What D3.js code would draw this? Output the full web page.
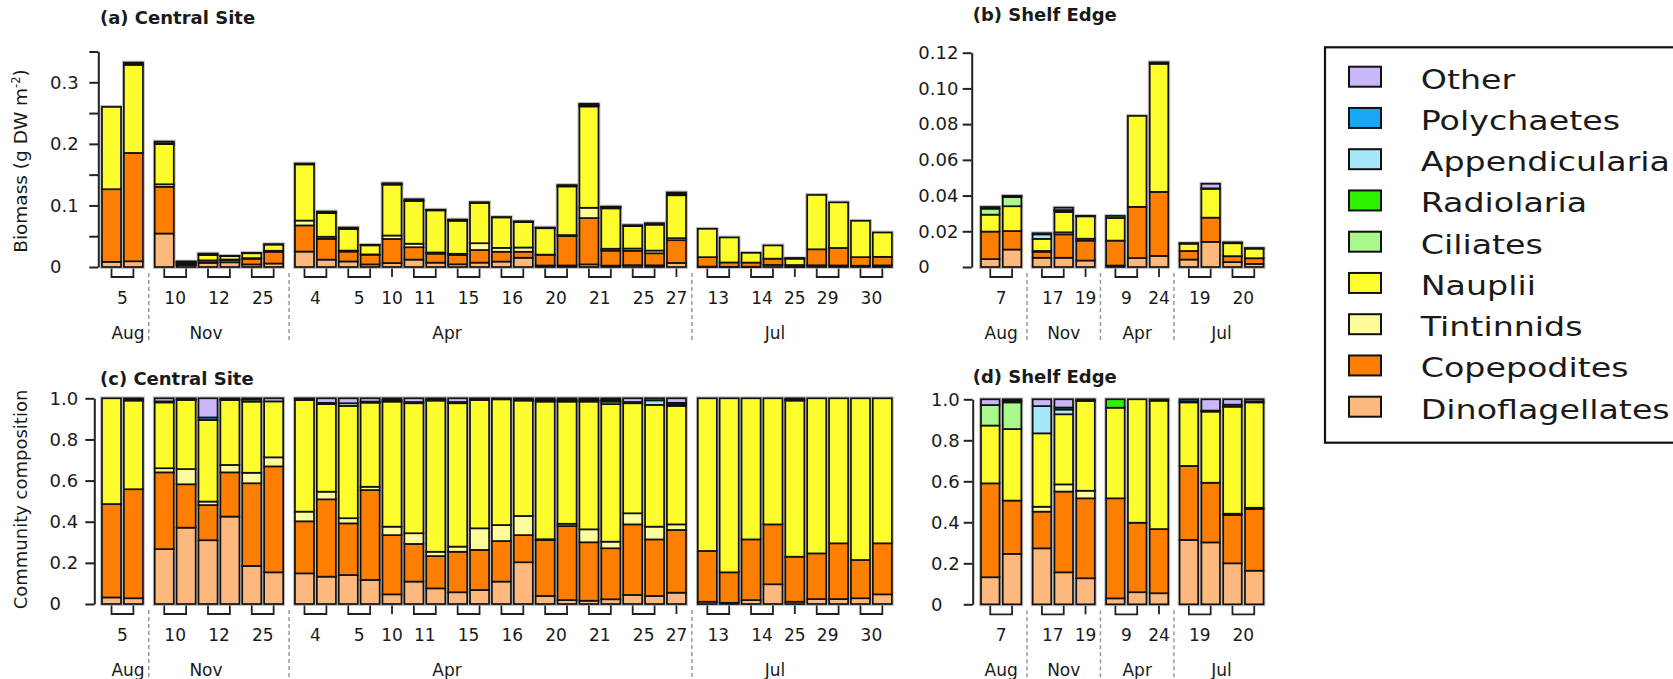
<!DOCTYPE html>
<html><head><meta charset="utf-8">
<script src="https://cdn.jsdelivr.net/npm/d3@7"></script>
<style>
body{margin:0;background:#fff}
svg{display:block}
text{font-family:"DejaVu Sans",Verdana,sans-serif;fill:#1a1a1a}
</style>
</head><body>
<svg id="chart" width="1673" height="679"></svg>
<script>
// ---------------- DATA ----------------
const categories = ["Dinoflagellates","Copepodites","Tintinnids","Nauplii","Ciliates","Radiolaria","Appendicularia","Polychaetes","Other"];
const categoryColors = ["#fdb97d","#fd7e00","#fdfb9c","#fdfd2e","#aaf78d","#2ef200","#a6e8fb","#18a8f8","#c9b7f7"];

// Central site sampling structure
const centralMonths = ["Aug","Nov","Apr","Jul"];
const centralDays = [["5"],["10","12","25"],["4","5","10","11","15","16","20","21","25","27"],["13","14","25","29","30"]];
const centralReps = [[2],[2,2,2],[2,2,1,2,2,2,2,2,2,1],[2,2,1,2,2]];
// total biomass (g DW m-2), one per bar
const centralTotal = [0.260,0.332, 0.2036,0.0087,0.0217,0.018,0.0227,0.037,
  0.168,0.090,0.064,0.036,0.136,0.110,0.093,0.077,0.105,0.081,0.074,0.064,0.133,0.265,0.098,0.068,0.071,0.121,
  0.062,0.048,0.023,0.035,0.014,0.117,0.105,0.075,0.056];
// community composition fractions per category
const centralDino = [.032,.028, .267,.371,.31,.425,.185,.154,
  .149,.133,.141,.117,.047,.109,.076,.057,.068,.109,.203,.039,.019,.016,.023,.044,.039,.055,
  .011,.006,.019,.096,.011,.024,.024,.028,.047];
const centralCope = [.454,.530, .373,.211,.171,.215,.402,.515,
  .253,.376,.251,.437,.288,.183,.157,.197,.195,.197,.132,.272,.360,.284,.248,.343,.275,.305,
  .247,.148,.295,.291,.219,.222,.271,.186,.248];
const centralTint = [0,0, .02,.074,.017,.036,.051,.044,
  .047,.037,.025,.016,.041,.052,.021,.025,.105,.078,.093,.004,.011,.063,.032,.054,.062,.027,
  0,0,0,0,0,0,0,0,0];
const centralNaup = [.514,.431, .32,.336,.397,.316,.346,.272,
  .543,.426,.546,.409,.608,.632,.735,.697,.624,.611,.561,.669,.594,.621,.669,.535,.592,.576,
  .742,.846,.686,.613,.759,.754,.705,.786,.705];
const centralCil = [0,0, 0,0,0,0,.01,0,
  0,0,.013,0,0,0,0,0,0,0,0,0,0,0,.012,0,0,0,
  0,0,0,0,0,0,0,0,0];
const centralRad = [0,.004, 0,0,0,0,0,0,
  0,0,0,0,.005,0,.004,0,0,0,.004,.005,.005,.005,.005,0,0,.007,
  0,0,0,0,.004,0,0,0,0];
const centralApp = [0,.003, 0,.004,0,.004,0,0,
  .004,0,0,0,.005,0,.003,0,.004,0,.003,.005,.005,.005,.005,0,.022,0,
  0,0,0,0,.003,0,0,0,0];
const centralPoly = [0,.004, .005,.004,.012,.004,0,0,
  .004,.006,0,.005,.006,.006,.004,.006,.004,.005,.004,.006,.006,.006,.006,.006,.010,.008,
  0,0,0,0,.004,0,0,0,0];
const centralOther = [0,0, .015,0,.093,0,.006,.015,
  0,.022,.024,.016,0,.018,0,.018,0,0,0,0,0,0,0,.018,0,.022,
  0,0,0,0,0,0,0,0,0];

// Shelf edge sampling structure
const shelfMonths = ["Aug","Nov","Apr","Jul"];
const shelfDays = [["7"],["17","19"],["9","24"],["19","20"]];
const shelfReps = [[2],[2,1],[2,1],[2,2]];
const shelfTotal = [0.0336,0.0398, 0.0189,0.0332,0.0286, 0.0286,0.0846,0.1146, 0.0133,0.0466,0.0138,0.0105];
const shelfDino  = [.132,.246,.273,.156,.127,.029,.059,.054,.314,.302,.2,.164];
const shelfCope  = [.458,.260,.179,.394,.39,.488,.339,.313,.361,.291,.236,.301];
const shelfTint  = [0,0,.024,.035,.037,0,0,0,0,0,.006,.006];
const shelfNaup  = [.282,.349,.358,.342,.438,.442,.602,.626,.31,.347,.522,.514];
const shelfCil   = [.100,.130,0,0,0,0,0,0,0,0,0,0];
const shelfRad   = [0,.005,0,0,0,.041,0,0,0,0,0,0];
const shelfApp   = [0,.005,.133,.023,.004,0,0,.003,.005,0,0,0];
const shelfPoly  = [0,.005,0,.01,.004,0,0,.004,.01,.005,.01,.005];
const shelfOther = [.028,0,.033,.04,0,0,0,0,0,.055,.026,.010];

const biomassTicks = [0,0.05,0.1,0.15,0.2,0.25,0.3,0.35];
const shelfBiomassTicks = [0,0.02,0.04,0.06,0.08,0.10,0.12];
const compTicks = [0,0.2,0.4,0.6,0.8,1.0];

// ---------------- LAYOUT ----------------
const layout = {
  central: {x0:102, slot:21.88, gap:0.41, barFrac:0.87, monthX:[128,206,447,775]},
  shelf:   {x0:981, slot:21.8,  gap:0.37, barFrac:0.85, monthX:null},
  strokeW: 1.7
};

const svg = d3.select("#chart");

function buildSite(months, days, reps, cfg){
  const bars=[], groups=[];
  let i=0;
  months.forEach((m,g)=>{
    const first=i, dayItems=[];
    days[g].forEach((d,k)=>{
      const idx=[];
      for(let r=0;r<reps[g][k];r++){ bars.push({i, g, slot:i+g*cfg.gap}); idx.push(i); i++; }
      dayItems.push({label:d, idx});
    });
    groups.push({month:m, first, last:i-1, days:dayItems});
  });
  const N = bars.length + (months.length-1)*cfg.gap;
  const x = d3.scaleLinear().domain([0,N]).range([cfg.x0, cfg.x0+N*cfg.slot]);
  return {bars, groups, x, cfg};
}

const central = buildSite(centralMonths, centralDays, centralReps, layout.central);
const shelf = buildSite(shelfMonths, shelfDays, shelfReps, layout.shelf);

const centralFracs = [centralDino,centralCope,centralTint,centralNaup,centralCil,centralRad,centralApp,centralPoly,centralOther];
const shelfFracs = [shelfDino,shelfCope,shelfTint,shelfNaup,shelfCil,shelfRad,shelfApp,shelfPoly,shelfOther];

function rowsFrom(fracs, totals, absolute){
  return totals.map((t,j)=>{
    const r={};
    categories.forEach((c,k)=>{ r[c] = fracs[k][j]*(absolute?t:1); });
    return r;
  });
}

function drawBars(site, rows, y, expand){
  const st = d3.stack().keys(categories);
  if(expand) st.offset(d3.stackOffsetExpand);
  const series = st(rows);
  const c = site.cfg;
  const g = svg.append("g");
  const bx = b => site.x(b.slot);
  const bw = b => site.x(b.slot+c.barFrac)-site.x(b.slot);
  // halo
  g.selectAll("rect.halo").data(site.bars).join("rect")
    .attr("x", b=>bx(b)).attr("width", b=>bw(b))
    .attr("y", b=>y(series[series.length-1][b.i][1]))
    .attr("height", b=>y(0)-y(series[series.length-1][b.i][1]))
    .attr("fill","none").attr("stroke","#bdbdbd").attr("stroke-width",3.8);
  series.forEach((s,k)=>{
    const segs = site.bars.filter(b=>s[b.i][1]-s[b.i][0]>0);
    g.selectAll(null).data(segs).join("rect")
      .attr("x", b=>bx(b)).attr("width", b=>bw(b))
      .attr("y", b=>y(s[b.i][1]))
      .attr("height", b=>y(s[b.i][0])-y(s[b.i][1]))
      .attr("fill", categoryColors[k]).attr("stroke","#111").attr("stroke-width",layout.strokeW);
  });
}

function drawXAxis(site, zero){
  const c = site.cfg, x = site.x, g = svg.append("g");
  const center = i => x(site.bars[i].slot + c.barFrac/2);
  site.groups.forEach((grp,gi)=>{
    grp.days.forEach(d=>{
      const cx = d.idx.map(center);
      const p = cx.length===2
        ? `M${cx[0]},${zero+1.5}V${zero+10}H${cx[1]}V${zero+1.5}`
        : `M${cx[0]},${zero+1.5}V${zero+10}`;
      g.append("path").attr("d",p).attr("fill","none").attr("stroke","#222").attr("stroke-width",1.8);
      g.append("text").attr("x", d3.mean(cx)).attr("y", zero+37)
        .attr("text-anchor","middle").attr("font-size",17).text(d.label);
    });
    const gx0 = x(site.bars[grp.first].slot), gx1 = x(site.bars[grp.last].slot + c.barFrac);
    const mx = c.monthX ? c.monthX[gi] : (gx0+gx1)/2;
    g.append("text").attr("x", mx).attr("y", zero+71.5)
      .attr("text-anchor","middle").attr("font-size",17).text(grp.month);
    if(gi>0){
      const prev = site.groups[gi-1];
      const sx = (x(site.bars[prev.last].slot + c.barFrac) + gx0)/2;
      g.append("line").attr("x1",sx).attr("x2",sx).attr("y1",zero+6).attr("y2",zero+73)
        .attr("stroke","#9a9a9a").attr("stroke-width",1.5).attr("stroke-dasharray","4,3");
    }
  });
}

function drawYAxis(y, axisX, labelX, ticks, fmt){
  const g = svg.append("g").attr("transform",`translate(${axisX},0)`)
    .call(d3.axisLeft(y).tickValues(ticks).tickSize(9).tickSizeOuter(0).tickFormat(fmt));
  g.select(".domain").attr("stroke","#222").attr("stroke-width",2);
  g.selectAll(".tick line").attr("stroke","#222").attr("stroke-width",2);
  g.selectAll(".tick text").attr("x", labelX-axisX).attr("text-anchor","start")
    .attr("font-size",18).attr("font-family","DejaVu Sans, Verdana, sans-serif").attr("fill","#1a1a1a");
}

// Scales
const yA = d3.scaleLinear().domain([0,0.35]).range([267,51.5]);
const yB = d3.scaleLinear().domain([0,0.12]).range([267,52.7]);
const yC = d3.scaleLinear().domain([0,1]).range([604,398.3]);
const yD = d3.scaleLinear().domain([0,1]).range([604.3,399.3]);

// Panels
drawBars(central, rowsFrom(centralFracs, centralTotal, true), yA, false);
drawBars(shelf, rowsFrom(shelfFracs, shelfTotal, true), yB, false);
drawBars(central, rowsFrom(centralFracs, centralTotal, false), yC, true);
drawBars(shelf, rowsFrom(shelfFracs, shelfTotal, false), yD, true);

drawXAxis(central, 267); drawXAxis(shelf, 267);
drawXAxis(central, 604); drawXAxis(shelf, 604.3);

drawYAxis(yA, 98.3, 50, biomassTicks, v => { const r=Math.round(v*100); return r%10===0 ? (r===0?"0":d3.format(".1f")(v)) : ""; });
drawYAxis(yB, 971.7, 918.3, shelfBiomassTicks, v => v===0 ? "0" : d3.format(".2f")(v));
drawYAxis(yC, 94.3, 49.5, compTicks, v => v===0 ? "0" : d3.format(".1f")(v));
drawYAxis(yD, 972.7, 931, compTicks, v => v===0 ? "0" : d3.format(".1f")(v));

// Titles
const titles = [["(a) Central Site",100,24],["(b) Shelf Edge",972.7,20.5],["(c) Central Site",100,385],["(d) Shelf Edge",972.7,383]];
titles.forEach(t=> svg.append("text").attr("x",t[1]).attr("y",t[2]).attr("font-size",18).attr("font-weight","bold").text(t[0]));

// Y titles
const yt1 = svg.append("text").attr("transform","translate(26.5,161) rotate(-90)").attr("text-anchor","middle").attr("font-size",18.5);
yt1.append("tspan").text("Biomass (g DW m");
yt1.append("tspan").attr("font-size",11.5).attr("dy",-7).text("-2");
yt1.append("tspan").attr("dy",7).text(")");
svg.append("text").attr("transform","translate(26.5,499.5) rotate(-90)").attr("text-anchor","middle").attr("font-size",18).text("Community composition");

// Legend
const leg = svg.append("g");
leg.append("rect").attr("x",1325).attr("y",47.3).attr("width",420).attr("height",395.4)
  .attr("fill","none").attr("stroke","#111").attr("stroke-width",2.2);
const legendOrder = categories.slice().reverse();
const ly = d3.scalePoint().domain(legendOrder).range([76.7, 76.7+8*41.25]);
legendOrder.forEach(c=>{
  const k = categories.indexOf(c);
  leg.append("rect").attr("x",1349).attr("y",ly(c)-10).attr("width",32).attr("height",20)
    .attr("fill",categoryColors[k]).attr("stroke","#111").attr("stroke-width",2);
  leg.append("text").attr("transform",`translate(1420.7,${ly(c)+12}) scale(1.28,1)`)
    .attr("font-size",26).text(c);
});
</script>
</body></html>
